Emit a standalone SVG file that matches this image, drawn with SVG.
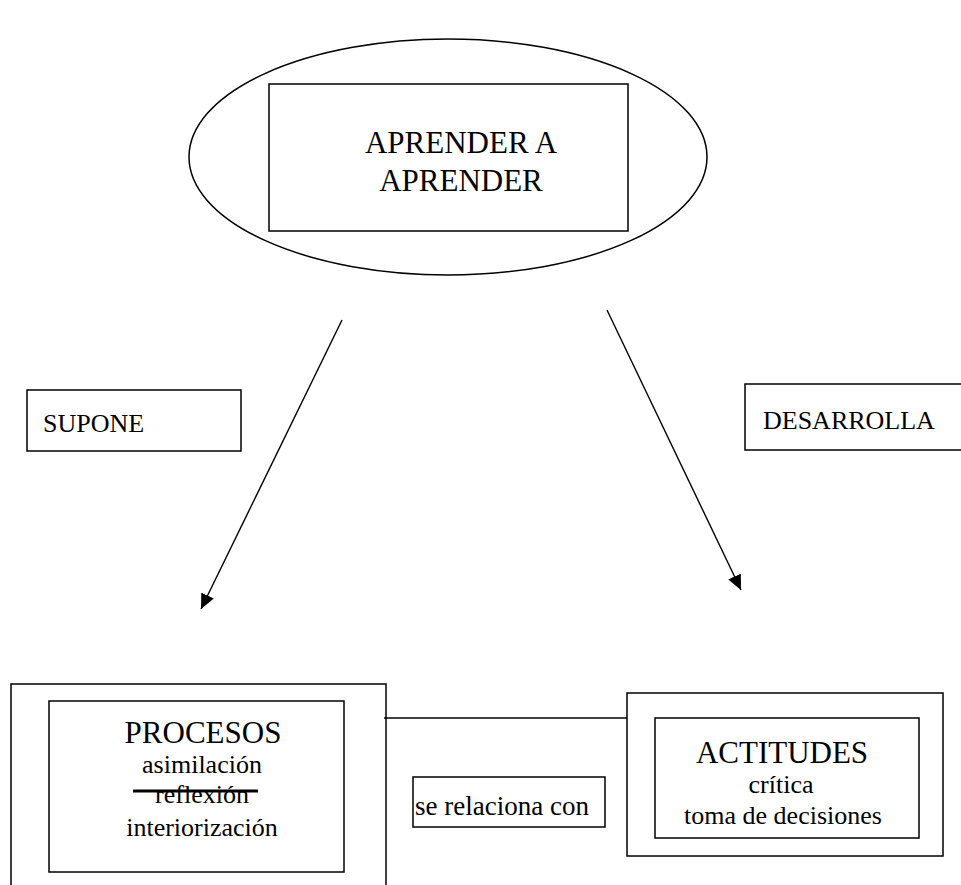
<svg xmlns="http://www.w3.org/2000/svg" width="961" height="885" viewBox="0 0 961 885">
<style>
.b{fill:none;stroke:#000;stroke-width:1.5}
text{font-family:'Liberation Serif','Times New Roman',serif;fill:#000}
.h{font-size:31px}
.s{font-size:26px}
.c{stroke:#000;stroke-width:1.4;fill:none}
</style>
<defs>
<marker id="ah" markerUnits="userSpaceOnUse" viewBox="0 -8 16 16" markerWidth="16" markerHeight="16" refX="15" refY="0" orient="auto">
<path d="M0,-7 L15,0 L0,7 z" fill="#000"/>
</marker>
</defs>
<rect width="961" height="885" fill="#fff"/>
<g id="connectors">
<line class="c" x1="342" y1="320" x2="201" y2="609" marker-end="url(#ah)"/>
<line class="c" x1="607" y1="310" x2="741" y2="590" marker-end="url(#ah)"/>
<line class="c" x1="384" y1="718" x2="627" y2="718"/>
</g>
<g id="aprender">
<ellipse class="b" cx="448" cy="157" rx="259" ry="118"/>
<rect class="b" x="269" y="84" width="359" height="147"/>
<text class="h" x="461" y="153" text-anchor="middle">APRENDER A</text>
<text class="h" x="461" y="191" text-anchor="middle">APRENDER</text>
</g>
<g id="supone">
<rect class="b" x="27" y="390" width="214" height="61"/>
<text class="s" x="43" y="432">SUPONE</text>
</g>
<g id="desarrolla">
<rect class="b" x="745" y="384" width="230" height="66"/>
<text class="s" x="763" y="429">DESARROLLA</text>
</g>
<g id="procesos">
<rect class="b" x="11" y="684" width="375" height="220"/>
<rect class="b" x="49" y="701" width="295" height="171"/>
<text class="h" x="203" y="743" text-anchor="middle">PROCESOS</text>
<text class="s" x="202" y="773" text-anchor="middle">asimilación</text>
<text class="s" x="202" y="803" text-anchor="middle">reflexión</text>
<line x1="133" y1="791" x2="258" y2="791" stroke="#000" stroke-width="3"/>
<text class="s" x="202" y="836" text-anchor="middle">interiorización</text>
</g>
<g id="relaciona">
<rect class="b" x="413" y="777" width="192" height="50"/>
<text font-size="27" x="415" y="815">se relaciona con</text>
</g>
<g id="actitudes">
<rect class="b" x="627" y="693" width="316" height="163"/>
<rect class="b" x="655" y="718" width="264" height="120"/>
<text class="h" x="782" y="763" text-anchor="middle">ACTITUDES</text>
<text class="s" x="781" y="793" text-anchor="middle">crítica</text>
<text class="s" x="783" y="824" text-anchor="middle">toma de decisiones</text>
</g>
</svg>
